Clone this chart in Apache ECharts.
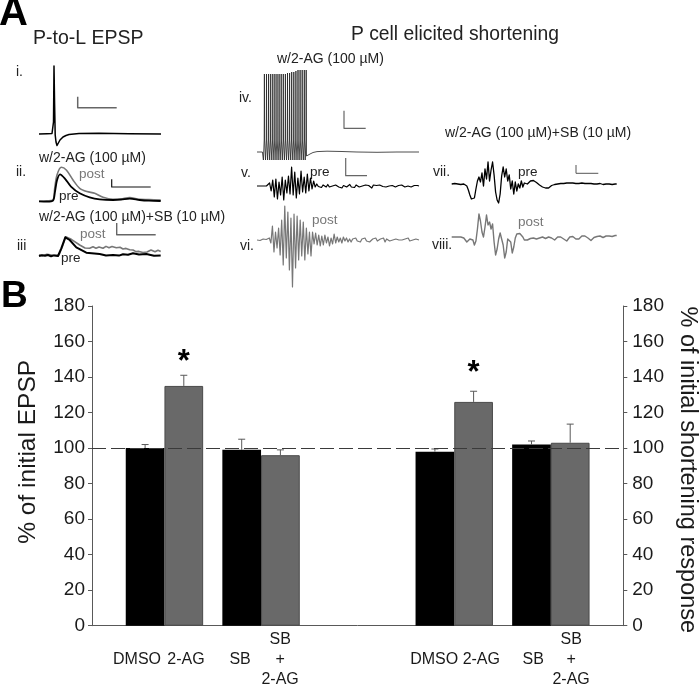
<!DOCTYPE html>
<html><head><meta charset="utf-8">
<style>html,body{margin:0;padding:0;background:#fff}#c{width:700px;height:685px}</style>
<script src="https://cdn.jsdelivr.net/npm/echarts@6/dist/echarts.min.js"></script>
</head><body><div id="c"></div>
<script>
// ---------- Panel B data ----------
const categories = ['', 'EPSP DMSO/2-AG', '', 'EPSP SB/SB+2-AG', '', '', '', 'Shortening DMSO/2-AG', '', 'Shortening SB/SB+2-AG', ''];
const blackValues = [null, 100, null, 99, null, null, null, 98, null, 102, null];
const grayValues  = [null, 135, null, 96, null, null, null, 126, null, 103, null];
const blackErrTop = [null, 102, null, 105, null, null, null, 99.5, null, 104, null];
const grayErrTop  = [null, 141, null, 99, null, null, null, 132, null, 113.5, null];
const starHeights = [null, 150.5, null, null, null, null, null, 144, null, null, null];
const xTickLabels = ['DMSO', '2-AG', 'SB', 'SB\n+\n2-AG', 'DMSO', '2-AG', 'SB', 'SB\n+\n2-AG'];

// ---------- Panel A traces: [time, amplitude] ----------
const traceI = [[0,0],[8,0.3],[13,0.5],[14,0],[14.5,12],[15,68],[15.6,30],[16.2,-1],[17,-8],[18,-11.5],[19,-10],[21,-6],[24,-3],[27,-1.5],[30,-0.5],[40,0.5],[60,0.7],[90,0.2],[122,0]];
const traceIIpre = [[0,0],[8,-0.3],[14,0.7],[16,9.7],[18,21],[21,27],[25.7,23],[32,14.7],[40.7,8],[50.7,4],[60.7,2],[74,1.3],[82,1.6],[90.7,2.7],[100.7,1.3],[110,0.6],[121.7,0.3]];
const traceIIpost = [[0,0],[8,0.4],[14,1.3],[15.7,13],[18,26.3],[22.3,34],[27.3,31.3],[34,21.3],[40.7,13],[48,9.7],[55.7,8],[64,4],[74,2],[82,2.4],[90.7,3.7],[100.7,2],[110,1.8],[121.7,1.3]];
const traceIIIpre = [[0,-1],[3,-0.2],[6,-0.8],[9,0],[12,-1.3],[15,-0.4],[19,-1],[22.3,6.7],[26.3,17.7],[30.7,15],[37.3,7.7],[47.3,2.3],[60.7,1],[67,-0.4],[74,0],[80,-0.6],[84,0.8],[89,0.2],[94,1.7],[100,0.4],[107.3,1],[115,-0.8],[121.7,-0.4]];
const traceIIIpost = [[0,0],[4,-0.6],[8,0.8],[14,-0.3],[20,0],[23.3,8.3],[26.7,18.3],[32.3,15.7],[40.7,10],[46,7],[50.7,6.7],[54,8.2],[57,6.8],[60,8],[64,6.7],[67,8.6],[70,7.2],[73,8.5],[77.3,7.2],[81,7.8],[84,6],[87,6.6],[90.7,5.2],[94,5],[97,3.4],[100,3.6],[104,2.5],[108,3],[112,5],[116,3.2],[119,4.8],[121.7,3.5]];
const spikeTimes = [6.4,8.5,10.6,12.7,14.8,16.9,19,21.1,23.2,25.3,27.4,29.5,31.6,33.7,35.8,37.9,40,42.1,44.2,46.3,48.2];
const spikePeaks = [78,78,78,78,78,78,78,78,78,78,78,79,79,80,80,81,82,82,82,82,82];
const traceIVtail = [[49.5,-4],[51,-3],[53,-2],[56,-0.5],[60,0.4],[70,0.8],[85,0.5],[100,0],[120,-0.3],[140,0],[162,0]];
const traceV = [0,0.5,0,0.3,0,0.5,0,-0.5,3,-5,6,-11,7,-13,4,-9,9,-14,6,-7,10,-8,19,-9,14,-12,8,-8,15,-6,9,-7,12,-5,8,-3,5,-1,2,-0.5,1,-1.5,1,0,-1,1.5,-1,0.5,0,-1.5,1,2,-1,1,-2,0.5,1,-1,0,1.5,-1,0.5,-1.5,1,0,-1,1,0,-0.5,1,-1,0.5,-1.5,-2,1,0,0.5,-1,1,0,-0.5,0.5,-1,1,0,-1,0.5,1,-1,0,0.5,-1.5,1,0,-1,0.5,0,1,-1,0,0.5,-1,0.5,0];
const traceVI = [0,0.5,-0.5,0.5,1,0,0.5,-1,2,-3,14,-12,8,-8,12,-15,20,-25,34,-18,28,-30,22,-47,26,-28,24,-20,20,-16,18,-20,12,-14,8,-16,8,-4,7,-5,5,-6,4,-5,5,-3,3,-6,2,-4,6,-3,3,-2,2,-3,3,-1,2,-2,1,-2,1,-1,2,-1,0,-2,1,-1,2,-1,1,-2,0,1,-1,2,-1,0,1,-1,2,-2,1,0,-1,1,0,-2,1,-1,0,1,0,-1,1,0,2,-1,1,0,-1,1,0,0];
const traceVII = [0,0,0.5,0.5,0,0,-0.5,0,0,0,-2,-6,-11,-15,-16.5,-14,-5,3,7,2,11,-2,15,5,22,3,14,22,9,-8,-16,-19,-10,8,17,7,15,3,9,-5,3,-10,2,-7,0,-4,3,-3,1,2,0,2,3,3.5,3.5,3,1.5,0,-1,-2,-3,-3.5,-4,-5,-4,-2.5,-1.5,-1,-0.5,0,0,0.5,0.5,1,0.5,1,1,0.5,1,0.5,1,1.5,0.5,1,0.5,0.5,1,0,0.5,1,0.5,0,0.5,-0.5,0,0.5,0,-0.5,0.5,0,-0.5,0,0,-0.5,0,0,-0.5,0,0,0];
const traceVIII = [0,0,0,0.5,0,0,0,0,-1,-3,-5,-5.5,-2,-1,-3,-8,-4,8,23,16,5,0,10,22,12,15,8,13,-5,-18,-12,-2,4,3,-8,-21,-15,-2,0,-5,-16,-10,-1,3,4,3.5,2,0,-3,-5,-3,-1,-1.5,-1,-1,-0.5,-2,-3,-1,-0.5,0,-1,-1.5,-0.5,0,-0.5,-1,-2,-3,-1,0,0.5,0,-1,-2,-3.5,-4,-2,0,1,0.5,-0.5,-2,-3.5,-2,0,1,0.5,1,0,-1,-2.5,-3.5,-2,-0.5,0,0.5,0,1,0.5,-0.5,0,1,0.5,1,1,0.5,1,1.5,1.5];
const scaleI = [[38.7,37.3],[38.7,26.3],[77.7,26.3]];
const scaleII = [[72.7,22],[72.7,14.3],[111.7,14.3]];
const scaleIII = [[77.7,32],[77.7,20.3],[116.7,20.3]];
const scaleIV = [[87,41.3],[87,23.7],[108.7,23.7]];
const scaleV = [[88.7,28],[88.7,10.3],[110,10.3]];
const scaleVII = [[124.3,19],[124.3,10.7],[146.6,10.7]];

// ---------- drawing ----------
const BLACK = '#000', AXIS = '#595959', INK = '#1a1a1a', FONT = 'Liberation Sans, Arial, sans-serif';
const BAR_W = 38.7;
const tickSlots = [0.932, 1.947, 3.066, 3.895, 7.085, 8.06, 9.136, 9.92];
const panels = [
  {left: 39, base: 134, w: 122},
  {left: 39, base: 201.3, w: 122},
  {left: 39, base: 255, w: 122},
  {left: 257, base: 152, w: 162},
  {left: 257, base: 186, w: 162},
  {left: 257, base: 240, w: 162},
  {left: 451.7, base: 184, w: 165},
  {left: 451.7, base: 237, w: 165}
];
const grids = [{left: 92, right: 76.7, top: 306, bottom: 59.3, outerBoundsMode: 'none'}];
const xAxes = [
  {type: 'category', gridIndex: 0, data: categories, axisTick: {show: false}, axisLabel: {show: false},
   axisLine: {lineStyle: {color: AXIS, width: 1}}},
  {type: 'value', gridIndex: 0, min: 0, max: 11, position: 'bottom', splitLine: {show: false},
   axisLine: {show: false}, axisTick: {show: false},
   axisLabel: {show: true, customValues: tickSlots, margin: 4, color: INK, fontSize: 16, fontFamily: FONT, lineHeight: 20,
     hideOverlap: false, showMinLabel: true, showMaxLabel: true,
     formatter: v => { const t = xTickLabels[tickSlots.indexOf(v)]; return t.includes('\n') ? t : ' \n' + t + '\n '; }}}
];
const yBase = {type: 'value', gridIndex: 0, min: 0, max: 180, interval: 20, splitLine: {show: false},
  axisLine: {show: true, lineStyle: {color: AXIS, width: 1}}, axisTick: {show: true, length: 4, lineStyle: {color: AXIS}},
  nameLocation: 'middle', nameMoveOverlap: false};
const yAxes = [
  Object.assign({}, yBase, {position: 'left', axisLabel: {color: INK, fontSize: 19, fontFamily: FONT, margin: 7},
    name: '% of initial EPSP', nameGap: 51, nameRotate: 90,
    nameTextStyle: {color: INK, fontSize: 24.5, fontFamily: FONT, padding: [0, 0, 0, 28]}}),
  Object.assign({}, yBase, {position: 'right', axisLabel: {color: INK, fontSize: 19, fontFamily: FONT, margin: 9},
    name: '% of initial shortening response', nameGap: 52, nameRotate: -90,
    nameTextStyle: {color: INK, fontSize: 23.5, fontFamily: FONT, padding: [0, 0, 0, 8]}})
];
panels.forEach((p, i) => {
  grids.push({left: p.left, top: p.base - 50, width: p.w, height: 100, outerBoundsMode: 'none'});
  xAxes.push({type: 'value', gridIndex: i + 1, min: 0, max: p.w, show: false});
  yAxes.push({type: 'value', gridIndex: i + 1, min: -50, max: 50, show: false});
});
const pairs = (vals, w) => vals.map((v, i) => [i * w / (vals.length - 1), v]);
const line = (panel, data, color, width, smooth) => ({type: 'line', xAxisIndex: panel + 2, yAxisIndex: panel + 2, data, clip: false,
  showSymbol: false, symbol: 'none', smooth: smooth || false, silent: true, lineStyle: {color, width, join: 'round'}});

const traceIV = [[0,0],[5.4,0]];
spikeTimes.forEach((t, i) => traceIV.push([t, -8], [t + 0.8, 12], [t + 1, spikePeaks[i]], [t + 1.2, 12]));
traceIV.push(...traceIVtail);

function errItem(params, api) {
  const cat = api.value(0), top = api.value(1), base = api.value(2), side = api.value(3);
  const x = api.coord([cat, 0])[0] + side * BAR_W / 2;
  const yT = api.coord([cat, top])[1], yB = api.coord([cat, base])[1];
  const st = {stroke: AXIS, lineWidth: 1, fill: null};
  return {type: 'group', children: [
    {type: 'line', shape: {x1: x, y1: yT, x2: x, y2: yB}, style: st},
    {type: 'line', shape: {x1: x - 3.5, y1: yT, x2: x + 3.5, y2: yT}, style: st}
  ]};
}
const errData = [];
categories.forEach((c, i) => {
  if (blackValues[i] != null) errData.push([i, blackErrTop[i], blackValues[i], -1]);
  if (grayValues[i] != null) errData.push([i, grayErrTop[i], grayValues[i], 1]);
});
const starData = starHeights.map((h, i) => h == null ? null : [i, h]).filter(Boolean);

const series = [
  {type: 'bar', name: 'control', xAxisIndex: 0, yAxisIndex: 0, data: blackValues, barWidth: BAR_W, barGap: 0,
   itemStyle: {color: BLACK}, silent: true},
  {type: 'bar', name: 'treated', xAxisIndex: 0, yAxisIndex: 0, data: grayValues, barWidth: BAR_W, barGap: 0,
   itemStyle: {color: '#696969', borderColor: '#4a4a4a', borderWidth: 1}, silent: true,
   markLine: {silent: true, symbol: 'none', z: 10, label: {show: false}, animation: false,
     lineStyle: {color: '#3a3a3a', type: [14, 5], width: 1}, data: [{yAxis: 100}]}},
  {type: 'custom', xAxisIndex: 0, yAxisIndex: 0, data: errData, renderItem: errItem, silent: true, z: 5},
  {type: 'custom', xAxisIndex: 0, yAxisIndex: 0, data: starData, silent: true, z: 6, renderItem: (p, api) => {
    const c = api.coord([api.value(0), api.value(1)]);
    return {type: 'text', style: {x: c[0] + BAR_W / 2, y: c[1] + 4, text: '*', fill: '#000', align: 'center', verticalAlign: 'middle',
      font: 'bold 31px ' + FONT}};
  }},
  line(0, traceI, '#000', 1.5),
  line(0, scaleI, '#666', 1.5),
  line(1, traceIIpost, '#777', 1.6, 0.3),
  line(1, traceIIpre, '#000', 1.8, 0.3),
  line(1, scaleII, '#111', 1.2),
  line(2, traceIIIpost, '#777', 1.6),
  line(2, traceIIIpre, '#000', 2),
  line(2, scaleIII, '#666', 1.4),
  line(3, traceIV, '#222', 0.8),
  line(3, scaleIV, '#666', 1.2),
  line(4, pairs(traceV, 162), '#000', 1.2),
  line(4, scaleV, '#666', 1.2),
  line(5, pairs(traceVI, 162), '#777', 1.2),
  line(6, pairs(traceVII, 165), '#000', 1.3),
  line(6, scaleVII, '#555', 1),
  line(7, pairs(traceVIII, 165), '#777', 1.4)
];

const txt = (x, y, text, size, fill, weight) => ({type: 'text', x, y, silent: true,
  style: {text, fill: fill || '#222', font: (weight || 'normal') + ' ' + size + 'px ' + FONT, textAlign: 'left', textVerticalAlign: 'middle'}});
const graphic = [
  txt(-1, 14, 'A', 40, '#000', 'bold'),
  txt(1, 297, 'B', 37, '#000', 'bold'),
  txt(33, 39, 'P-to-L EPSP', 19.5),
  txt(351, 35, 'P cell elicited shortening', 19.3),
  txt(16, 72, 'i.', 14),
  txt(16, 172, 'ii.', 14),
  txt(17, 246, 'iii', 14),
  txt(39, 158, 'w/2-AG (100 µM)', 14),
  txt(39, 217, 'w/2-AG (100 µM)+SB (10 µM)', 14),
  txt(79, 174, 'post', 13.5, '#777'),
  txt(59, 196, 'pre', 13.5),
  txt(80, 234, 'post', 13.5, '#777'),
  txt(61, 258, 'pre', 13.5),
  txt(277, 59, 'w/2-AG (100 µM)', 14),
  txt(239, 98, 'iv.', 14),
  txt(241, 173, 'v.', 14),
  txt(240, 246, 'vi.', 14),
  txt(310, 172, 'pre', 13.5),
  txt(312, 220, 'post', 13.5, '#777'),
  txt(445, 133, 'w/2-AG (100 µM)+SB (10 µM)', 14),
  txt(433, 172, 'vii.', 14),
  txt(432, 245, 'viii.', 14),
  txt(518, 172, 'pre', 13.5),
  txt(518, 222, 'post', 13.5, '#777')
];

const chart = echarts.init(document.getElementById('c'), null, {renderer: 'canvas'});
chart.setOption({animation: false, backgroundColor: '#fff', grid: grids, xAxis: xAxes, yAxis: yAxes, series, graphic, tooltip: {show: false}});
</script></body></html>
